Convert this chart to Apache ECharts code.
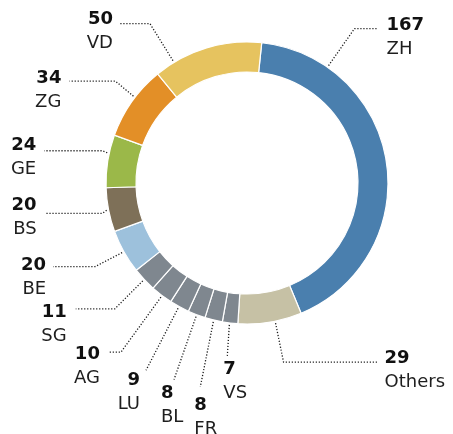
<!DOCTYPE html>
<html>
<head>
<meta charset="utf-8">
<script src="https://cdn.jsdelivr.net/npm/echarts@6/dist/echarts.min.js"></script>
<style>
  html, body { margin: 0; padding: 0; background: #fff; }
  #chart { width: 453px; height: 434px; }
</style>
</head>
<body>
<div id="chart"></div>
<script>
  // values, clockwise from the top
  const cantons = ['ZH', 'Others', 'VS', 'FR', 'BL', 'LU', 'AG', 'SG', 'BE', 'BS', 'GE', 'ZG', 'VD']
  const counts = [167, 29, 7, 8, 8, 9, 10, 11, 20, 20, 24, 34, 50]

  const sliceColors = ['#4a7fae', '#c6c1a5', '#7f878f', '#7f878f', '#7f878f', '#7f878f', '#7f878f',
    '#7f878f', '#9dc1dc', '#7e7058', '#9bb849', '#e38f27', '#e6c35f']

  // leader lines: where on the slice they start (0..1), first bend, horizontal run, text offset
  const labelPlaces = [
    { t: 0.19, bend: [26, -37], run: 23, text: [9, -15], align: 'left' },
    { t: 0.42, bend: [8, 39], run: 94, text: [7, -16], align: 'left' },
    { t: 0.53, bend: [-2, 31], run: 0, text: [-4, 1], align: 'left' },
    { t: 0.49, bend: [-13, 65], run: 0, text: [-6, 6], align: 'left' },
    { t: 0.49, bend: [-22, 63], run: 0, text: [-13, 2], align: 'left' },
    { t: 0.52, bend: [-32, 62], run: 0, text: [-6, -2], align: 'right' },
    { t: 0.47, bend: [-40, 55], run: -13, text: [-8, -10], align: 'right' },
    { t: 0.5, bend: [-28, 28], run: -39, text: [-9, -9], align: 'right' },
    { t: 0.5, bend: [-27, 14], run: -42, text: [-7, -13], align: 'right' },
    { t: 0.5, bend: [-4, 3], run: -58, text: [-8, -20], align: 'right' },
    { t: 0.65, bend: [-5, -2], run: -58, text: [-8, -17], align: 'right' },
    { t: 0.57, bend: [-18, -15], run: -46, text: [-8, -15], align: 'right' },
    { t: 0.18, bend: [-23, -37], run: -30, text: [-7, -16], align: 'right' }
  ]

  const chart = echarts.init(document.getElementById('chart'))

  function placeLabel (params) {
    const i = params.dataIndex
    const place = labelPlaces[i]
    const lay = chart.getModel().getSeriesByIndex(0).getData().getItemLayout(i)
    const a = lay.startAngle + place.t * (lay.endAngle - lay.startAngle)
    const r = lay.r + 2
    const ax = lay.cx + r * Math.cos(a)
    const ay = lay.cy + r * Math.sin(a)
    const bx = ax + place.bend[0]
    const by = ay + place.bend[1]
    const ex = bx + place.run
    return {
      x: ex + place.text[0],
      y: by + place.text[1],
      align: place.align,
      verticalAlign: 'top',
      labelLinePoints: [[ax, ay], [bx, by], [ex, by]]
    }
  }

  const option = {
    animation: false,
    series: [
      {
        type: 'pie',
        center: [247, 183],
        radius: [111, 141],
        startAngle: 84,
        clockwise: true,
        avoidLabelOverlap: false,
        silent: true,
        data: cantons.map((name, i) => ({
          name: name,
          value: counts[i],
          itemStyle: { color: sliceColors[i] }
        })),
        itemStyle: {
          borderColor: '#fff',
          borderWidth: 1.2
        },
        label: {
          show: true,
          position: 'outside',
          formatter: '{v|{c}}\n{n|{b}}',
          fontFamily: 'DejaVu Sans',
          rich: {
            v: {
              fontFamily: 'DejaVu Sans',
              fontSize: 18,
              fontWeight: 'bold',
              lineHeight: 24,
              color: '#111'
            },
            n: {
              fontFamily: 'DejaVu Sans',
              fontSize: 18,
              lineHeight: 24,
              color: '#1e1e1e'
            }
          }
        },
        labelLine: {
          show: true,
          lineStyle: {
            color: '#1a1a1a',
            width: 1.3,
            type: [1.2, 1.8]
          }
        },
        labelLayout: placeLabel
      }
    ]
  }
  chart.setOption(option)
</script>
</body>
</html>
